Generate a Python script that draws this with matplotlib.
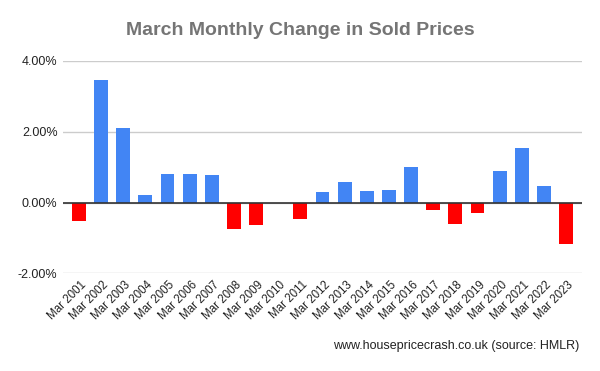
import matplotlib.pyplot as plt
from matplotlib.ticker import FuncFormatter
from matplotlib.transforms import ScaledTranslation

plt.rcParams['font.family'] = ['Liberation Sans', 'DejaVu Sans']

years = list(range(2001, 2024))
labels = ['Mar {}'.format(y) for y in years]
changes = [-0.52, 3.47, 2.10, 0.21, 0.80, 0.80, 0.77, -0.75, -0.63, 0.0,
           -0.46, 0.29, 0.58, 0.32, 0.35, 1.00, -0.21, -0.60, -0.29, 0.89,
           1.54, 0.46, -1.17]

colors = ['#4285F4' if v >= 0 else '#FF0000' for v in changes]

fig = plt.figure(figsize=(6, 3.71), dpi=100)
ax = fig.add_axes([0.105, 0.2633, 0.865, 0.5723])

x = list(range(len(changes)))
ax.bar(x, changes, width=0.63, color=colors, zorder=3)

ax.set_ylim(-2, 4)
ax.set_xlim(-0.72, len(changes) - 1 + 0.72)
ax.set_yticks([-2, 0, 2, 4])
ax.yaxis.set_major_formatter(FuncFormatter(lambda v, p: '{:.2f}%'.format(v)))
ax.grid(axis='y', color='#cccccc', linewidth=1, zorder=0)
ax.axhline(0, color='#333333', linewidth=1.2, zorder=4)

for s in ax.spines.values():
    s.set_visible(False)
ax.tick_params(axis='y', length=0, labelsize=9, colors='#222222', pad=4)
ax.tick_params(axis='x', length=0, labelsize=8.3, colors='#222222', pad=7)
ax.set_xticks(x)
ax.set_xticklabels(labels, rotation=45, ha='right', va='center', rotation_mode='anchor')
# nudge the rotated labels a little right, like the original
shift = ScaledTranslation(4 / 72, 0, fig.dpi_scale_trans)
for t in ax.get_xticklabels():
    t.set_transform(t.get_transform() + shift)

fig.text(0.5, 0.918, 'March Monthly Change in Sold Prices', ha='center', va='center',
         fontsize=14, fontweight='bold', color='#757575')
fig.text(0.965, 0.068, 'www.housepricecrash.co.uk (source: HMLR)', ha='right', va='center',
         fontsize=9, color='#222222')

fig.savefig('out.png', dpi=100)
